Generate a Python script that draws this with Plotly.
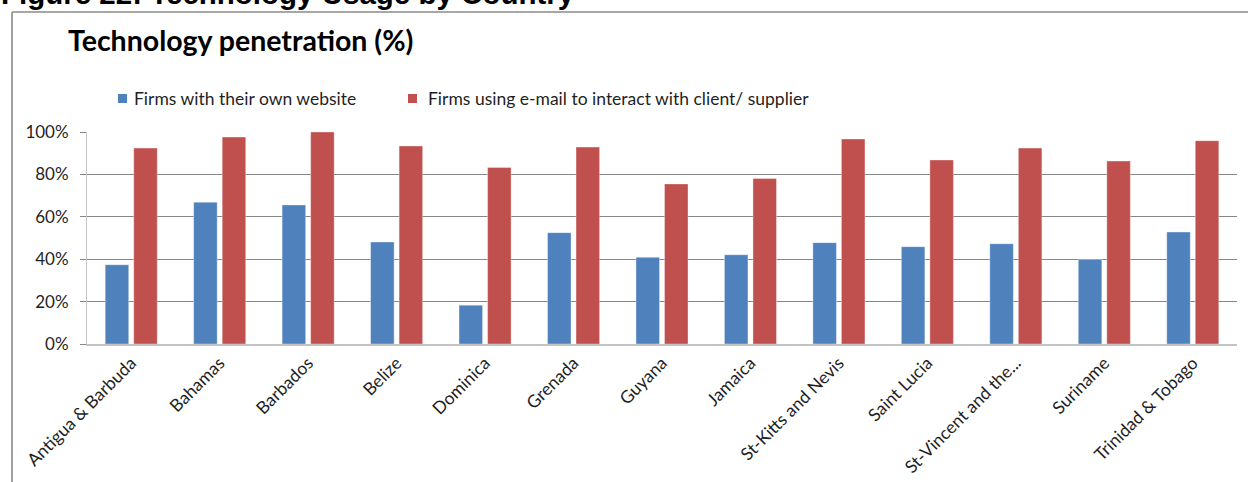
import plotly.graph_objects as go

# Technology penetration by country (share of firms, %)
countries = [
    "Antigua & Barbuda", "Bahamas", "Barbados", "Belize", "Dominica",
    "Grenada", "Guyana", "Jamaica", "St-Kitts and Nevis", "Saint Lucia",
    "St-Vincent and the...", "Suriname", "Trinidad & Tobago",
]
website_pct = [37.4, 66.9, 65.6, 48.1, 18.3, 52.5, 40.9, 42.1, 47.8, 45.9, 47.3, 39.9, 52.8]
email_pct = [92.4, 97.6, 100.0, 93.4, 83.3, 92.9, 75.5, 78.1, 96.7, 86.8, 92.4, 86.3, 95.9]

series_names = [
    "Firms with their own website",
    "Firms using e-mail to interact with client/ supplier",
]
y_tick_vals = [0, 20, 40, 60, 80, 100]
y_tick_text = ["0%", "20%", "40%", "60%", "80%", "100%"]

BLUE = "#4F81BD"
RED = "#C0504D"
GRID = "#868686"
TEXT = "#1f1f1f"
BODY_FONT = "Lato"

W, H = 1248, 482
ML, MR, MT, MB = 87, 11, 132, 138
PW, PH = W - ML - MR, H - MT - MB


def px(x):
    """Pixel column -> paper x."""
    return (x - ML) / PW


def py(y):
    """Pixel row (from top) -> paper y."""
    return (H - MB - y) / PH


fig = go.Figure()
for name, vals, color in [(series_names[0], website_pct, BLUE), (series_names[1], email_pct, RED)]:
    fig.add_trace(go.Bar(
        x=countries, y=vals, name=name,
        marker=dict(color=color, line=dict(color="rgba(255,255,255,0.45)", width=0.8)),
        showlegend=False,
    ))

shapes = [
    # outer frame (top and left edges)
    dict(type="line", xref="paper", yref="paper", x0=px(12), x1=px(1260), y0=py(12), y1=py(12),
         line=dict(color="#8a8a8a", width=1.6)),
    dict(type="line", xref="paper", yref="paper", x0=px(12), x1=px(12), y0=py(12), y1=py(500),
         line=dict(color="#8a8a8a", width=1.6)),
]
annotations = [
    dict(text="<b>Figure 22: Technology Usage by Country</b>", xref="paper", yref="paper",
         x=px(-1), y=py(-7), xanchor="left", yanchor="middle", showarrow=False,
         font=dict(family="Liberation Sans", size=29.5, color="#000000")),
    dict(text="<b>Technology penetration (%)</b>", xref="paper", yref="paper",
         x=px(66), y=py(40), xanchor="left", yanchor="middle", showarrow=False,
         font=dict(family=BODY_FONT, size=28.5, color="#000000")),
]

# legend: coloured square followed by series name
legend_pos = [(118, 133), (408, 427)]
for (sq_x, tx), name, color in zip(legend_pos, series_names, [BLUE, RED]):
    shapes.append(dict(type="rect", xref="paper", yref="paper",
                       x0=px(sq_x), x1=px(sq_x + 9), y0=py(103), y1=py(94),
                       fillcolor=color, line=dict(width=0)))
    annotations.append(dict(text=name, xref="paper", yref="paper", x=px(tx - 1), y=py(98.5),
                            xanchor="left", yanchor="middle", showarrow=False,
                            font=dict(family=BODY_FONT, size=17.5, color=TEXT)))

fig.update_layout(
    width=W, height=H,
    margin=dict(l=ML, r=MR, t=MT, b=MB, autoexpand=False),
    paper_bgcolor="white", plot_bgcolor="white",
    barmode="group", bargap=0.355, bargroupgap=0.175,
    shapes=shapes, annotations=annotations,
    font=dict(family=BODY_FONT, color=TEXT),
)
fig.update_xaxes(
    showline=True, linecolor="#c3c3c3", linewidth=2,
    ticks="", tickangle=-45, tickfont=dict(size=17.5, color=TEXT, family=BODY_FONT),
    showgrid=False,
)
fig.update_yaxes(
    range=[0, 100], tickvals=y_tick_vals, ticktext=y_tick_text,
    showline=True, linecolor="#c3c3c3", linewidth=1,
    ticks="outside", ticklen=6, tickcolor=GRID, tickwidth=1,
    showgrid=True, gridcolor=GRID, gridwidth=1, zeroline=False,
    ticklabelstandoff=8,
    tickfont=dict(size=17, color=TEXT, family=BODY_FONT),
)

fig.write_html("out.html")
